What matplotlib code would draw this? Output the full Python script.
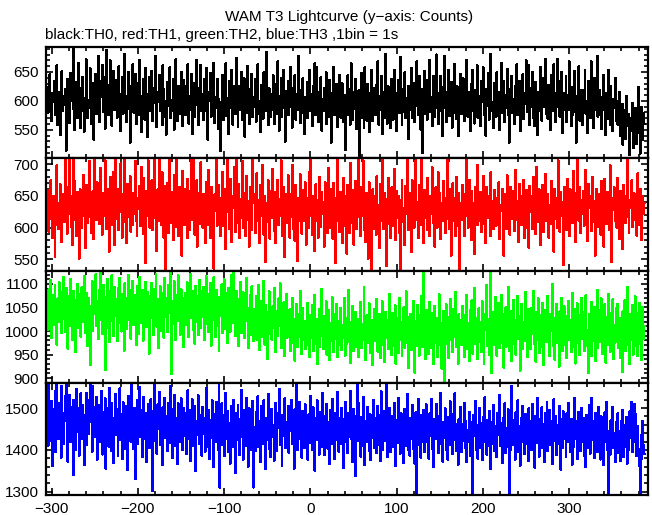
import matplotlib

matplotlib.use("Agg")
import matplotlib.pyplot as plt
import numpy as np
from matplotlib.ticker import MultipleLocator

plt.rcParams["font.family"] = ["Liberation Sans", "DejaVu Sans"]

# first 1 s bin (s, relative to T0)
TIME_START = -305

# counts per 1 s bin
TH0_COUNTS = [
    606, 580, 625, 646, 591, 565, 613, 598, 635, 576, 602, 661, 558, 616, 592, 541, 630, 651, 582, 608,
    593, 620, 514, 573, 638, 610, 562, 648, 600, 627, 695, 586, 550, 633, 612, 570, 665, 603, 553, 623,
    583, 641, 605, 547, 598, 672, 621, 570, 602, 588, 656, 561, 631, 596, 533, 615, 647, 577, 610, 678,
    600, 563, 635, 607, 662, 581, 622, 552, 642, 688, 601, 575, 627, 670, 592, 557, 612, 652, 585, 606,
    636, 571, 598, 660, 612, 548, 592, 642, 578, 621, 681, 597, 563, 608, 650, 586, 528, 626, 603, 663,
    580, 613, 646, 560, 601, 631, 575, 670, 608, 546, 591, 638, 617, 568, 657, 597, 537, 611, 641, 583,
    605, 652, 566, 622, 596, 678, 576, 555, 615, 598, 645, 583, 610, 558, 661, 620, 573, 600, 542, 633,
    592, 616, 658, 570, 602, 582, 637, 550, 610, 672, 588, 565, 626, 600, 578, 650, 607, 556, 636, 590,
    575, 625, 597, 663, 561, 608, 585, 646, 543, 601, 631, 572, 613, 671, 593, 558, 622, 605, 662, 582,
    611, 567, 637, 591, 657, 581, 533, 616, 600, 648, 573, 621, 595, 666, 562, 606, 587, 638, 551, 603,
    585, 514, 599, 644, 567, 619, 592, 665, 574, 605, 543, 634, 587, 654, 610, 559, 597, 625, 578, 674,
    594, 555, 625, 584, 608, 650, 568, 600, 639, 538, 614, 580, 660, 592, 560, 620, 598, 647, 572, 607,
    589, 637, 564, 613, 663, 578, 599, 547, 627, 595, 569, 649, 604, 583, 684, 592, 558, 622, 602, 572,
    612, 584, 644, 560, 598, 629, 577, 668, 594, 549, 608, 640, 573, 602, 653, 587, 530, 617, 592, 634,
    575, 604, 658, 589, 554, 623, 595, 644, 568, 612, 584, 677, 594, 562, 619, 579, 639, 599, 543, 607,
    591, 633, 570, 603, 654, 583, 611, 556, 625, 589, 665, 576, 659, 598, 563, 616, 584, 641, 549, 604,
    583, 623, 594, 649, 560, 606, 573, 636, 596, 528, 614, 588, 659, 575, 600, 629, 555, 609, 585, 645,
    571, 599, 630, 564, 610, 581, 515, 595, 644, 575, 620, 559, 665, 590, 568, 615, 586, 638, 551, 603,
    583, 618, 500, 593, 648, 571, 605, 554, 658, 591, 566, 629, 598, 546, 613, 584, 653, 565, 623, 593,
    575, 628, 596, 668, 559, 608, 585, 643, 543, 600, 615, 570, 681, 593, 561, 625, 588, 609, 553, 638,
    598, 568, 654, 591, 614, 548, 601, 636, 579, 676, 590, 559, 620, 581, 649, 571, 605, 595, 534, 626,
    585, 609, 656, 571, 599, 630, 563, 616, 668, 591, 576, 643, 596, 550, 621, 510, 594, 651, 578, 611,
    568, 636, 594, 670, 581, 606, 556, 643, 591, 573, 618, 680, 588, 560, 614, 583, 643, 599, 540, 624,
    678, 588, 563, 616, 595, 653, 574, 603, 633, 554, 596, 580, 664, 609, 569, 625, 590, 539, 611, 646,
    578, 600, 639, 565, 608, 586, 671, 573, 615, 595, 548, 629, 583, 653, 599, 561, 619, 591, 661, 571,
    608, 584, 556, 634, 598, 658, 576, 604, 540, 620, 591, 648, 568, 611, 681, 583, 598, 554, 630, 600,
    573, 649, 593, 615, 550, 605, 666, 580, 598, 635, 564, 610, 588, 655, 575, 528, 621, 595, 643, 580,
    604, 560, 625, 590, 663, 576, 599, 635, 548, 608, 585, 646, 569, 614, 594, 670, 581, 662, 596, 558,
    623, 589, 650, 571, 603, 556, 633, 595, 541, 616, 583, 659, 600, 566, 639, 589, 610, 673, 578, 598,
    569, 628, 594, 550, 645, 605, 583, 663, 593, 563, 614, 673, 589, 634, 573, 600, 650, 545, 613, 585,
    599, 643, 563, 610, 584, 668, 595, 556, 624, 576, 603, 651, 580, 528, 608, 590, 660, 566, 619, 593,
    559, 618, 591, 654, 578, 600, 544, 634, 596, 570, 668, 588, 613, 553, 640, 584, 601, 678, 573, 595,
    618, 575, 551, 606, 645, 584, 596, 541, 614, 569, 654, 590, 558, 626, 580, 548, 604, 588, 640, 566,
    599, 559, 581, 615, 540, 573, 595, 524, 561, 584, 534, 608, 556, 578, 526, 506, 571, 548, 596, 519,
    566, 540, 588, 525, 559, 624, 545, 509, 569, 590, 533, 579, 560,
]

TH1_COUNTS = [
    626, 659, 593, 643, 674, 614, 583, 650, 633, 554, 604, 698, 639, 598, 624, 668, 645, 577, 615, 653,
    608, 706, 631, 590, 664, 621, 706, 649, 601, 572, 707, 640, 673, 611, 587, 656, 625, 551, 660, 633,
    600, 646, 682, 619, 568, 638, 667, 607, 650, 705, 617, 591, 642, 657, 582, 708, 635, 612, 671, 625,
    646, 605, 694, 636, 589, 654, 619, 706, 631, 597, 661, 643, 562, 680, 628, 604, 649, 687, 573, 708,
    639, 614, 661, 596, 643, 701, 625, 584, 652, 633, 707, 608, 576, 668, 640, 617, 681, 593, 636, 604,
    654, 622, 705, 611, 586, 647, 629, 666, 603, 696, 642, 590, 678, 626, 544, 657, 618, 706, 638, 600,
    625, 674, 596, 645, 706, 615, 635, 563, 660, 610, 708, 650, 604, 687, 629, 584, 666, 532, 621, 670,
    591, 640, 707, 607, 656, 624, 580, 682, 633, 601, 709, 646, 587, 664, 617, 652, 556, 689, 628, 604,
    661, 615, 583, 677, 631, 596, 657, 708, 612, 639, 709, 589, 647, 674, 570, 621, 654, 605, 703, 636,
    600, 653, 624, 575, 671, 633, 604, 691, 643, 583, 664, 618, 640, 535, 652, 626, 708, 603, 629, 667,
    612, 587, 646, 688, 603, 638, 566, 661, 625, 708, 642, 598, 677, 619, 577, 650, 631, 695, 593, 708,
    632, 607, 668, 583, 645, 615, 705, 600, 654, 628, 586, 681, 612, 642, 570, 664, 624, 596, 708, 638,
    652, 591, 628, 685, 611, 643, 576, 667, 619, 699, 635, 589, 650, 545, 639, 608, 674, 626, 582, 657,
    615, 692, 638, 594, 656, 575, 625, 675, 604, 645, 618, 706, 587, 633, 663, 554, 622, 653, 607, 682,
    633, 584, 652, 617, 698, 598, 640, 579, 667, 624, 547, 647, 611, 684, 629, 590, 659, 610, 639, 671,
    573, 625, 647, 600, 688, 708, 618, 589, 650, 635, 563, 668, 610, 643, 584, 680, 628, 601, 656, 621,
    640, 570, 671, 614, 649, 591, 694, 622, 600, 660, 631, 582, 670, 618, 544, 647, 708, 611, 636, 593,
    656, 621, 576, 678, 632, 603, 650, 559, 667, 626, 591, 702, 635, 607, 659, 573, 624, 673, 598, 645,
    617, 709, 636, 586, 664, 619, 706, 596, 646, 577, 654, 625, 551, 671, 610, 640, 533, 660, 629, 598,
    650, 589, 681, 618, 635, 568, 668, 611, 708, 631, 597, 654, 622, 540, 645, 678, 605, 633, 583, 663,
    626, 603, 692, 639, 580, 657, 615, 649, 591, 531, 643, 675, 608, 631, 572, 666, 621, 708, 638, 596,
    654, 619, 561, 674, 632, 600, 652, 706, 612, 640, 583, 667, 624, 604, 708, 635, 576, 659, 615, 646,
    596, 678, 631, 587, 650, 621, 695, 607, 643, 570, 663, 628, 600, 687, 618, 654, 582, 638, 611, 673,
    625, 591, 647, 614, 706, 636, 597, 660, 556, 632, 670, 610, 646, 587, 680, 624, 603, 654, 533, 638,
    612, 667, 633, 586, 652, 618, 708, 643, 600, 675, 628, 580, 657, 617, 639, 559, 663, 622, 604, 699,
    636, 611, 656, 593, 625, 681, 605, 645, 575, 664, 631, 615, 649, 586, 687, 622, 642, 597, 659, 632,
    603, 647, 618, 671, 582, 636, 626, 661, 608, 556, 653, 633, 598, 682, 621, 643, 589, 664, 614, 635,
    657, 594, 628, 691, 612, 642, 577, 668, 624, 604, 650, 618, 675, 584, 635, 659, 600, 629, 568, 666,
    624, 649, 597, 680, 617, 638, 590, 696, 632, 608, 660, 572, 645, 615, 667, 593, 636, 684, 610, 626,
    653, 584, 635, 605, 673, 622, 643, 562, 661, 614, 647, 600, 706, 629, 593, 656, 619, 640, 541, 664,
    615, 645, 596, 677, 632, 586, 660, 621, 642, 607, 689, 628, 577, 654, 708, 635, 611, 664, 591, 643,
    622, 657, 603, 639, 691, 614, 579, 668, 631, 649, 594, 619, 680, 608, 642, 556, 661, 625, 601, 652,
    633, 589, 673, 615, 646, 570, 677, 624, 605, 656, 638, 596, 698, 618, 545, 647, 628, 663, 611, 640,
    600, 678, 635, 582, 657, 619, 639, 566, 667, 625, 607, 650, 706, 617, 591, 643, 631, 674, 601, 636,
    654, 612, 646, 587, 685, 624, 604, 661, 629, 580, 650, 621, 639,
]

TH2_COUNTS = [
    1060, 1003, 1089, 1030, 1108, 985, 1047, 1076, 1012, 1097, 1038, 971, 1069, 1020, 1103, 1045, 995, 1082, 1026, 1115,
    1051, 998, 1092, 1035, 962, 1074, 1011, 1110, 1040, 980, 1085, 1027, 1066, 955, 1049, 1099, 1007, 1078, 1032, 988,
    1093, 1019, 1058, 1117, 996, 1044, 1081, 968, 1070, 1015, 928, 1053, 1106, 1001, 1075, 1036, 1120, 1010, 1063, 983,
    1087, 1024, 1126, 1050, 993, 1098, 1039, 917, 1072, 1006, 1111, 1046, 976, 1084, 1021, 1118, 1057, 990, 1094, 1033,
    1068, 978, 1091, 1017, 1113, 1052, 999, 1079, 1029, 958, 1101, 1043, 1004, 1071, 1119, 1023, 1086, 984, 1055, 1107,
    1012, 1077, 1036, 970, 1096, 1048, 994, 1115, 1060, 1018, 1088, 979, 1065, 1031, 1104, 1008, 1083, 1041, 952, 1074,
    1027, 1102, 1054, 991, 1090, 1034, 1121, 1009, 1067, 963, 1058, 1095, 1000, 1046, 1080, 986, 1112, 1030, 1071, 997,
    1097, 1039, 1082, 1125, 909, 1063, 1015, 1106, 1049, 981, 1076, 1022, 1118, 1044, 992, 1089, 1025, 1070, 966, 1052,
    1081, 1013, 1103, 1037, 987, 1066, 1122, 1028, 1085, 1002, 1055, 973, 1096, 1019, 1074, 992, 1109, 1047, 1006, 1084,
    1030, 1093, 980, 1061, 1116, 1016, 1078, 998, 1050, 1102, 969, 1068, 1023, 1114, 1045, 988, 1087, 1011, 1064, 957,
    1073, 1032, 1099, 995, 1057, 1110, 1005, 1080, 1026, 975, 1091, 1041, 999, 1069, 1119, 1017, 1126, 1052, 990, 1085,
    1014, 1067, 968, 1043, 1104, 996, 1053, 1082, 985, 1061, 1021, 1113, 1035, 964, 1049, 1077, 992, 1095, 1028, 978,
    1047, 999, 1074, 981, 1025, 1098, 960, 1036, 1063, 988, 1107, 1013, 971, 1055, 1004, 940, 1041, 1084, 993, 1022,
    982, 1052, 1007, 1091, 1015, 955, 1043, 990, 1069, 1010, 1101, 963, 1030, 998, 1061, 947, 1021, 1079, 986, 1039,
    994, 1046, 958, 1012, 1071, 975, 1026, 937, 1003, 1058, 966, 1035, 988, 1085, 1009, 951, 1048, 980, 1022, 961,
    1018, 971, 1060, 1000, 944, 1034, 985, 1055, 957, 1007, 1077, 973, 1025, 930, 1002, 1047, 966, 1013, 1090, 989,
    962, 1031, 987, 1063, 950, 1008, 1044, 939, 1016, 978, 1072, 997, 955, 1037, 983, 1058, 944, 1021, 970, 1006,
    1049, 959, 1012, 985, 1070, 948, 1027, 973, 1002, 1087, 976, 932, 1019, 993, 1054, 957, 1009, 1041, 967, 995,
    1026, 945, 998, 1061, 964, 1015, 982, 1093, 1004, 938, 1033, 975, 1011, 1059, 953, 991, 1023, 927, 1000, 1046,
    979, 1018, 1068, 956, 996, 1037, 942, 1008, 1063, 970, 1014, 934, 1041, 986, 1024, 961, 1079, 984, 1005, 949,
    1039, 968, 1010, 1055, 930, 999, 1028, 954, 1070, 981, 1020, 946, 992, 1050, 965, 1003, 1084, 974, 1030, 921,
    995, 1036, 960, 1012, 1064, 977, 911, 1022, 969, 1056, 1001, 948, 1033, 984, 1075, 966, 1126, 1009, 940, 1045,
    983, 1021, 951, 1062, 996, 963, 1039, 929, 1011, 1053, 974, 1027, 944, 994, 1078, 970, 1016, 920, 1002, 1043,
    893, 1009, 1057, 972, 1030, 942, 994, 1068, 980, 1015, 955, 1047, 987, 1083, 966, 1013, 931, 1036, 978, 1024,
    970, 1054, 998, 945, 1034, 982, 1076, 962, 1017, 936, 1044, 990, 1065, 952, 1006, 1092, 973, 1027, 940, 1001,
    1048, 977, 1019, 955, 1063, 988, 930, 1035, 1003, 1098, 968, 1025, 949, 1126, 991, 911, 1040, 970, 1012, 1072,
    984, 948, 1026, 1059, 964, 1008, 1077, 975, 1037, 922, 997, 1050, 967, 1021, 1094, 958, 993, 1043, 936, 1014,
    1066, 973, 1023, 950, 996, 1074, 983, 1031, 916, 1010, 1058, 961, 1019, 979, 1083, 999, 944, 1047, 986, 1028,
    962, 1049, 994, 1085, 972, 1013, 935, 1040, 981, 1069, 953, 1004, 1033, 966, 1060, 928, 997, 1045, 976, 1022,
    1075, 985, 947, 1036, 1000, 1100, 968, 1027, 939, 993, 1057, 974, 1016, 924, 1042, 988, 1071, 958, 1009, 1052,
    971, 1031, 942, 1005, 1063, 980, 1024, 955, 1081, 990, 966, 1046, 931, 1012, 1059, 975, 1034, 949, 998, 1070,
    983, 1041, 957, 1015, 1076, 968, 1002, 911, 1037, 989, 1062, 946, 1025, 978, 1051, 936, 1007, 1088, 963, 1018,
    1044, 977, 1069, 951, 1020, 992, 1057, 933, 1030, 970, 1079, 987, 956, 1039, 996, 1067, 941, 1013, 975, 1048,
    986, 1058, 964, 1027, 943, 1001, 913, 1042, 979, 1065, 958, 1016, 1093, 971, 1010, 929, 1036, 982, 1055, 950,
    1003, 1074, 969, 1038, 946, 995, 1060, 972, 1029, 938, 1051, 984, 1011,
]

TH3_COUNTS = [
    1492, 1410, 1556, 1473, 1421, 1517, 1362, 1498, 1440, 1540, 1395, 1558, 1479, 1426, 1511, 1452, 1381, 1553, 1488, 1415,
    1470, 1528, 1558, 1433, 1372, 1486, 1531, 1418, 1503, 1457, 1340, 1520, 1477, 1401, 1545, 1444, 1499, 1386, 1465, 1535,
    1427, 1508, 1451, 1364, 1483, 1537, 1412, 1495, 1438, 1519, 1556, 1468, 1396, 1553, 1502, 1430, 1481, 1526, 1377, 1461,
    1507, 1420, 1474, 1541, 1389, 1490, 1447, 1523, 1355, 1466, 1501, 1408, 1549, 1455, 1398, 1512, 1476, 1368, 1459, 1533,
    1436, 1497, 1385, 1471, 1547, 1424, 1485, 1378, 1514, 1450, 1403, 1504, 1462, 1352, 1529, 1441, 1493, 1419, 1555, 1470,
    1402, 1500, 1330, 1455, 1518, 1414, 1480, 1550, 1432, 1496, 1383, 1467, 1527, 1425, 1488, 1370, 1458, 1510, 1404, 1475,
    1521, 1439, 1302, 1494, 1557, 1422, 1468, 1391, 1509, 1450, 1538, 1411, 1478, 1363, 1502, 1444, 1525, 1428, 1482, 1397,
    1461, 1513, 1416, 1553, 1473, 1380, 1497, 1437, 1532, 1409, 1476, 1366, 1511, 1453, 1418, 1524, 1466, 1399, 1501, 1434,
    1489, 1390, 1463, 1542, 1427, 1495, 1374, 1472, 1521, 1410, 1458, 1506, 1349, 1469, 1435, 1530, 1415, 1484, 1448, 1386,
    1503, 1437, 1475, 1396, 1548, 1460, 1408, 1496, 1379, 1471, 1429, 1519, 1454, 1358, 1486, 1420, 1515, 1443, 1401, 1558,
    1310, 1470, 1511, 1412, 1483, 1385, 1457, 1536, 1426, 1492, 1394, 1464, 1367, 1504, 1440, 1407, 1520, 1449, 1345, 1488,
    1424, 1507, 1459, 1388, 1474, 1543, 1431, 1377, 1495, 1446, 1409, 1525, 1466, 1360, 1499, 1428, 1481, 1400, 1517, 1310,
    1455, 1397, 1490, 1436, 1528, 1406, 1468, 1371, 1505, 1451, 1415, 1518, 1439, 1354, 1477, 1423, 1534, 1402, 1463, 1383,
    1498, 1430, 1460, 1374, 1512, 1442, 1398, 1487, 1452, 1546, 1411, 1472, 1362, 1484, 1434, 1523, 1405, 1467, 1427, 1506,
    1393, 1479, 1445, 1520, 1413, 1464, 1355, 1497, 1440, 1555, 1400, 1461, 1514, 1425, 1473, 1381, 1494, 1447, 1404, 1509,
    1431, 1470, 1376, 1485, 1416, 1529, 1453, 1399, 1502, 1436, 1350, 1475, 1423, 1518, 1458, 1389, 1491, 1444, 1408, 1536,
    1446, 1387, 1482, 1427, 1510, 1403, 1466, 1366, 1496, 1435, 1522, 1413, 1469, 1378, 1489, 1424, 1539, 1450, 1396, 1477,
    1414, 1500, 1441, 1357, 1474, 1420, 1515, 1456, 1392, 1488, 1432, 1541, 1426, 1467, 1371, 1497, 1443, 1337, 1481, 1557,
    1422, 1511, 1460, 1384, 1478, 1409, 1527, 1439, 1363, 1470, 1418, 1503, 1451, 1397, 1485, 1375, 1466, 1428, 1519, 1405,
    1476, 1392, 1452, 1506, 1412, 1483, 1374, 1540, 1437, 1401, 1492, 1421, 1468, 1556, 1382, 1459, 1416, 1501, 1395, 1447,
    1481, 1408, 1512, 1433, 1361, 1471, 1417, 1525, 1449, 1391, 1487, 1426, 1463, 1369, 1498, 1410, 1466, 1534, 1400, 1444,
    1386, 1476, 1425, 1507, 1403, 1455, 1367, 1490, 1297, 1436, 1522, 1412, 1469, 1381, 1484, 1420, 1496, 1395, 1458, 1509,
    1418, 1464, 1379, 1487, 1434, 1521, 1402, 1461, 1358, 1474, 1427, 1510, 1445, 1393, 1482, 1415, 1537, 1438, 1372, 1467,
    1429, 1499, 1399, 1453, 1377, 1478, 1411, 1516, 1457, 1390, 1486, 1424, 1535, 1462, 1397, 1441, 1364, 1473, 1416, 1503,
    1394, 1462, 1421, 1513, 1405, 1470, 1370, 1447, 1419, 1491, 1386, 1466, 1412, 1292, 1483, 1433, 1517, 1400, 1459, 1379,
    1441, 1500, 1404, 1463, 1375, 1479, 1418, 1526, 1430, 1389, 1472, 1410, 1493, 1449, 1354, 1467, 1415, 1508, 1398, 1456,
    1427, 1383, 1488, 1436, 1532, 1409, 1465, 1368, 1477, 1420, 1511, 1393, 1451, 1406, 1497, 1292, 1440, 1401, 1552, 1460,
    1412, 1471, 1377, 1490, 1428, 1518, 1396, 1458, 1362, 1476, 1419, 1505, 1437, 1390, 1485, 1413, 1464, 1373, 1499, 1431,
    1468, 1400, 1510, 1424, 1455, 1357, 1482, 1416, 1523, 1439, 1384, 1474, 1426, 1502, 1405, 1461, 1371, 1489, 1418, 1515,
    1397, 1457, 1496, 1411, 1470, 1366, 1443, 1521, 1422, 1480, 1388, 1459, 1414, 1506, 1432, 1353, 1473, 1404, 1492, 1425,
    1463, 1382, 1487, 1419, 1512, 1436, 1395, 1474, 1365, 1450, 1408, 1525, 1427, 1469, 1378, 1491, 1413, 1455, 1397, 1501,
    1418, 1476, 1386, 1442, 1359, 1484, 1405, 1461, 1507, 1391, 1437, 1525, 1423, 1470, 1380, 1489, 1414, 1452, 1394, 1503,
    1435, 1377, 1480, 1410, 1462, 1363, 1490, 1420, 1514, 1399, 1292, 1446, 1388, 1471, 1416, 1502, 1404, 1441, 1370, 1466,
    1417, 1487, 1392, 1444, 1374, 1468, 1425, 1496, 1383, 1459, 1406, 1479, 1367, 1438, 1401, 1492, 1428, 1515, 1395, 1463,
    1510, 1419, 1486, 1385, 1457, 1403, 1362, 1297, 1436, 1378, 1470, 1412, 1390,
]

X_TICKS = [-300, -200, -100, 0, 100, 200, 300]
Y_TICKS_TH0 = [550, 600, 650]
Y_TICKS_TH1 = [550, 600, 650, 700]
Y_TICKS_TH2 = [900, 950, 1000, 1050, 1100]
Y_TICKS_TH3 = [1300, 1400, 1500]

TITLE = "WAM T3 Lightcurve (y\u2212axis: Counts)"
SUBTITLE = "black:TH0, red:TH1, green:TH2, blue:TH3 ,1bin = 1s"

# (counts, colour, y range, y ticks, minor step)
PANELS = [
    (TH0_COUNTS, "#000000", (501.5, 693.0), Y_TICKS_TH0, 10),
    (TH1_COUNTS, "#FF0000", (531.5, 709.5), Y_TICKS_TH1, 10),
    (TH2_COUNTS, "#00FF00", (889.5, 1127.5), Y_TICKS_TH2, 10),
    (TH3_COUNTS, "#0000FF", (1292.0, 1560.0), Y_TICKS_TH3, 20),
]

W, H = 652, 515
LEFT_PX, RIGHT_PX = 45.5, 648.0
EDGES_PX = [47, 158, 271, 383, 495]

fig = plt.figure(figsize=(W / 100, H / 100), dpi=100)

for i, (counts, color, ylim, yticks, ystep) in enumerate(PANELS):
    top = 1 - EDGES_PX[i] / H
    bottom = 1 - EDGES_PX[i + 1] / H
    ax = fig.add_axes([LEFT_PX / W, bottom, (RIGHT_PX - LEFT_PX) / W, top - bottom])
    t = TIME_START + np.arange(len(counts))
    ax.plot(t, counts, color=color, linewidth=0.8, drawstyle="steps-mid",
            antialiased=False, solid_joinstyle="miter")

    ax.set_xlim(-307, 391)
    ax.set_ylim(*ylim)
    ax.set_xticks(X_TICKS)
    ax.set_yticks(yticks)
    ax.xaxis.set_minor_locator(MultipleLocator(20))
    ax.yaxis.set_minor_locator(MultipleLocator(ystep))

    ax.tick_params(which="both", direction="in", top=True, right=True,
                   width=1.2, labelsize=11, colors="black")
    ax.tick_params(which="major", length=5, pad=5)
    ax.tick_params(which="minor", length=3)
    if i < len(PANELS) - 1:
        ax.tick_params(labelbottom=False)
    for spine in ax.spines.values():
        spine.set_linewidth(1.6)

fig.text(349 / W, 1 - 17 / H, TITLE, ha="center", va="center", fontsize=11)
fig.text(45 / W, 1 - 35 / H, SUBTITLE, ha="left", va="center", fontsize=11)

fig.savefig("out.png", dpi=100)
plt.close(fig)
